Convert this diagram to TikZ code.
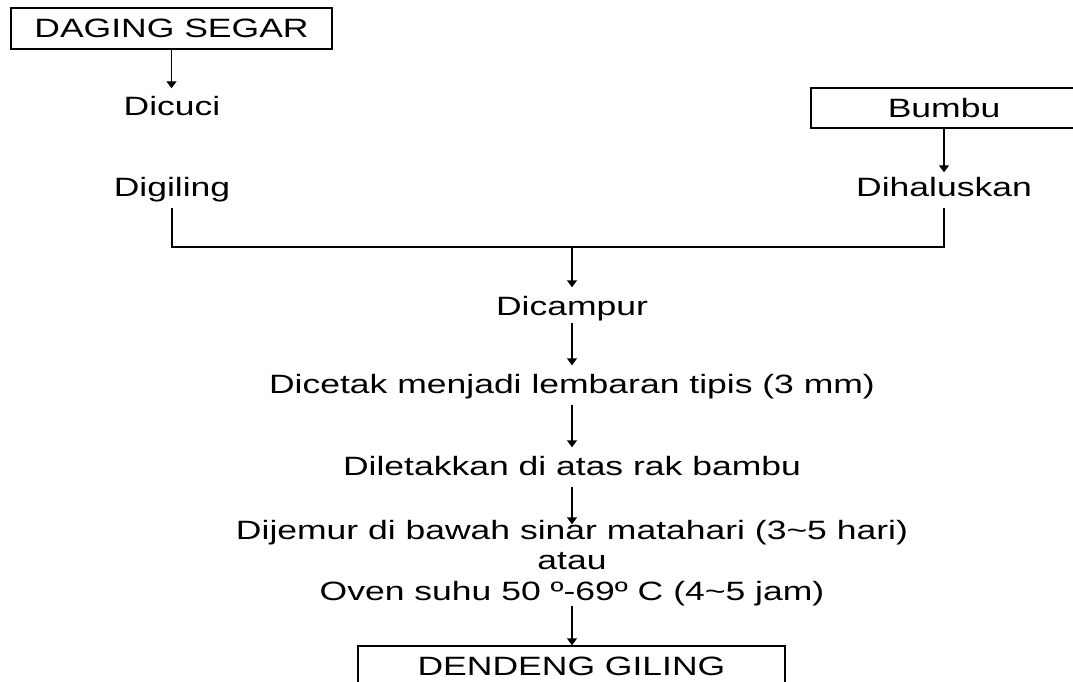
\documentclass[tikz,border=0pt]{standalone}
\usepackage{fontspec}
\setmainfont{Liberation Sans}[FakeStretch=1.34]
\usetikzlibrary{arrows.meta}
\begin{document}
\begin{tikzpicture}[x=1pt,y=-1pt, line width=1.4pt,
  every node/.style={font=\fontsize{26.5}{30}\selectfont},
  txt/.style={anchor=base, inner xsep=0pt, inner ysep=5pt, text height=22pt, text depth=6pt},
  boxnode/.style={draw, minimum height=41pt, inner sep=0pt},
  arr/.style={-{Triangle[length=7pt,width=10pt]}}]
\useasboundingbox (0,0) rectangle (1073,682);
\node[boxnode, minimum width=321pt] (ds) at (171.5,28.5) {DAGING SEGAR};
\node[txt] (dicuci) at (172,116) {Dicuci};
\node[txt] (digiling) at (172,196) {Digiling};
\node[boxnode, minimum width=266pt, minimum height=40pt] (bumbu) at (944,108) {Bumbu};
\node[txt] (dihal) at (944,196) {Dihaluskan};
\coordinate (j) at (572,247);
\node[txt] (campur) at (572,315) {Dicampur};
\node[txt] (cetak) at (572,393) {Dicetak menjadi lembaran tipis (3 mm)};
\node[txt] (letak) at (572,475) {Diletakkan di atas rak bambu};
\node[txt] (jemur) at (572,539) {Dijemur di bawah sinar matahari (3\textasciitilde5 hari)};
\node[txt] (atau) at (572,569) {atau};
\node[txt] (oven) at (572,600) {Oven suhu 50 º-69º C (4\textasciitilde5 jam)};
\node[boxnode, minimum width=427pt] (dendeng) at (571.5,666.5) {DENDENG GILING};
\draw[arr] (ds.south) -- (ds.south |- dicuci.north);
\draw[arr, shorten >=-4pt] (bumbu.south) -- (bumbu.south |- dihal.north);
\draw (digiling.south) |- (j) -| (dihal.south);
\draw[arr] (j) -- (campur.north);
\draw[arr, shorten <=-4pt] (campur.south) -- (cetak.north);
\draw[arr] (cetak.south) -- (letak.north);
\draw[arr, shorten >=-13pt] (letak.south) -- (jemur.north);
\draw[arr, shorten <=-6pt] (oven.south) -- (oven.south |- dendeng.north);
\end{tikzpicture}
\end{document}
